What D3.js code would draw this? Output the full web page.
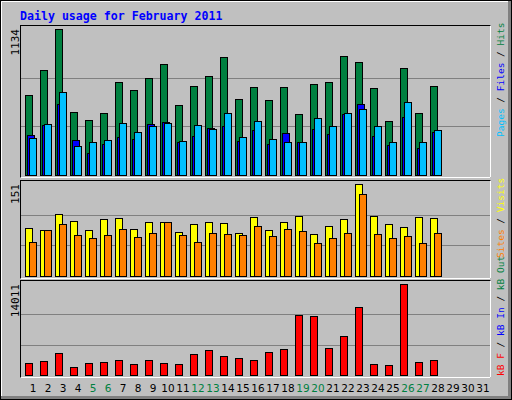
<!DOCTYPE html>
<meta charset="utf-8">
<script src="https://d3js.org/d3.v7.js"></script>
<style>body{margin:0;background:#fff}</style>
<div id="chart"></div>
<script>
// data
var days = d3.range(1, 32);
var weekend = [5, 6, 12, 13, 19, 20, 26, 27];
var hits  = [618,813,1134,488,426,480,726,659,757,864,541,695,772,918,590,687,580,680,472,710,726,926,880,672,418,834,480,695];
var files = [311,390,551,272,167,238,295,282,395,411,257,303,364,380,265,349,244,326,257,359,318,472,549,303,236,449,211,334];
var pages = [288,395,641,226,257,272,403,334,380,403,265,387,357,480,295,418,280,257,257,441,380,480,511,380,257,564,257,349];
var visits = [79,75,102,90,75,94,95,77,89,89,72,85,89,87,71,97,75,89,98,69,82,94,151,98,85,80,97,95];
var sites  = [56,75,85,67,62,67,77,64,71,89,67,56,71,69,67,82,66,77,74,54,62,71,135,69,62,66,54,71];
var kbytes = [1847,2155,3387,1232,1847,2002,2309,1694,2309,1847,1694,3233,3849,2925,2617,2309,3541,4003,9238,9084,4157,6005,10470,1694,1540,14011,2002,2309];

var svg = d3.select("#chart").append("svg").attr("width", 512).attr("height", 400)
  .style("font-family", "DejaVu Sans Mono");

// background + bevel
svg.append("rect").attr("x", 0).attr("y", 0).attr("width", 512).attr("height", 400).attr("fill", "#808080");
svg.append("rect").attr("x", 0).attr("y", 0).attr("width", 508).attr("height", 396).attr("fill", "#c0c0c0");
svg.append("rect").attr("x", 0.5).attr("y", 0.5).attr("width", 511).attr("height", 399).attr("fill", "none").attr("stroke", "#000");
svg.append("polyline").attr("points", "1.5,396 1.5,1.5 508,1.5").attr("fill", "none").attr("stroke", "#fff");

svg.append("text").attr("x", 20).attr("y", 20).text("Daily usage for February 2011")
  .attr("fill", "#0000ff").style("font-weight", "bold").style("font-size", "11.6px");

var x = d3.scaleLinear().domain([1, 2]).range([25, 40]);

function panel(top, bottom, max, series, label, legend, legendY) {
  var y = d3.scaleLinear().domain([0, max]).range([bottom - 2, top + 4]);
  svg.append("rect").attr("x", 20.5).attr("y", top + 0.5).attr("width", 470).attr("height", bottom - top)
    .attr("fill", "#c0c0c0").attr("stroke", "#000");
  svg.append("polyline").attr("points", (20.5) + "," + (bottom + 0.5) + " " + 490.5 + "," + (bottom + 0.5) + " " + 490.5 + "," + (top + 0.5))
    .attr("fill", "none").attr("stroke", "#fff");
  [max / 3, 2 * max / 3].forEach(function (v) {
    svg.append("line").attr("x1", 21).attr("x2", 490).attr("y1", Math.round(y(v)) + 0.5).attr("y2", Math.round(y(v)) + 0.5)
      .attr("stroke", "#808080");
  });
  series.forEach(function (s) {
    svg.append("g").selectAll("rect").data(s.values).enter().append("rect")
      .attr("x", function (d, i) { return x(i + 1) + s.off + 0.5; })
      .attr("y", function (d) { return Math.round(y(d)) + 0.5; })
      .attr("width", 7)
      .attr("height", function (d) { return Math.round(y(0)) - Math.round(y(d)); })
      .attr("fill", s.color).attr("stroke", "#000");
  });
  svg.append("text").attr("transform", "translate(19," + (top + 4) + ") rotate(-90)")
    .attr("text-anchor", "end").style("font-size", "11px").attr("fill", "#000").text(label);
  var t = svg.append("text").attr("transform", "translate(504," + legendY + ") rotate(-90)").style("font-size", "9.5px");
  legend.forEach(function (p) { t.append("tspan").attr("fill", p[1]).text(p[0]); });
}

panel(25, 177, 1134, [
  {values: hits, color: "#008040", off: 0},
  {values: files, color: "#0000ff", off: 2},
  {values: pages, color: "#00c0ff", off: 4}
], "1134", [["Pages", "#00c0ff"], [" / ", "#000"], ["Files", "#0000ff"], [" / ", "#000"], ["Hits", "#008040"]], 137);

panel(180, 278, 151, [
  {values: visits, color: "#ffff00", off: 0},
  {values: sites, color: "#ff8000", off: 4}
], "151", [["Sites", "#ff8000"], [" / ", "#000"], ["Visits", "#ffff00"]], 258);

panel(280, 377, 14011, [
  {values: kbytes, color: "#ff0000", off: 0}
], "14011", [["kB F", "#ff0000"], [" / ", "#000"], ["kB In", "#0000ff"], [" / ", "#000"], ["kB Out", "#008040"]], 376);

// day labels
svg.append("g").selectAll("text").data(days).enter().append("text")
  .attr("x", function (d) { return x(d) + 8; })
  .attr("y", 392).attr("text-anchor", "middle")
  .style("font-family", "DejaVu Sans").style("font-size", "10.5px")
  .attr("fill", function (d) { return weekend.indexOf(d) >= 0 ? "#008040" : "#000"; })
  .text(function (d) { return d; });
</script>
